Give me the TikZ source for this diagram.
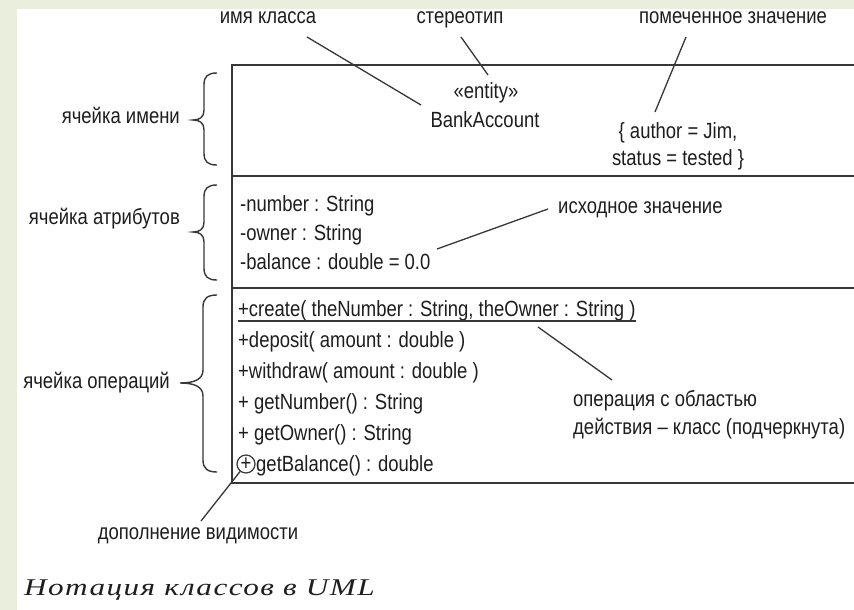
\documentclass[tikz,border=0pt]{standalone}
\usepackage{fontspec}
\setmainfont{Liberation Sans}[FakeStretch=0.84]
\newfontfamily\capfont{Liberation Serif}[FakeStretch=1.3,LetterSpace=6]
\usetikzlibrary{calc}
\definecolor{bggreen}{RGB}{233,239,220}
\definecolor{ink}{RGB}{30,30,30}
\definecolor{linec}{RGB}{55,55,55}
\begin{document}
\begin{tikzpicture}[x=1pt,y=-1pt,
  txt/.style={inner sep=0pt, text=ink, font=\fontsize{22}{26}\selectfont},
  cell/.style={draw=linec, line width=1.8pt},
  callout/.style={draw=linec, line width=1.3pt},
  bracepath/.style={draw=linec, line width=1.4pt},
  captionstyle/.style={inner sep=0pt, text=ink, font=\capfont\itshape\fontsize{24}{28}\selectfont}
]
\useasboundingbox (0,0) rectangle (854,610);
\fill[white] (0,0) rectangle (854,610);
\fill[bggreen] (0,0) rectangle (854,9);
\fill[bggreen] (0,0) rectangle (17,610);

% class box
\draw[cell] (854,65) -- (232,65) -- (232,483) -- (854,483);
\draw[cell] (232,176) -- (854,176);
\draw[cell] (232,288) -- (854,288);

% braces
\draw[bracepath] (217,73) .. controls (208,73) and (204,76) .. (204,85) -- (204,110)
  .. controls (204,117) and (200,120) .. (193,120) .. controls (200,120) and (204,123) .. (204,130)
  -- (204,153) .. controls (204,162) and (208,165) .. (217,165);
\draw[bracepath] (217,185) .. controls (208,185) and (204,188) .. (204,197) -- (204,222)
  .. controls (204,229) and (200,232) .. (193,232) .. controls (200,232) and (204,235) .. (204,242)
  -- (204,268) .. controls (204,277) and (208,280) .. (217,280);
\draw[bracepath] (217,295) .. controls (208,295) and (203,298) .. (203,307) -- (203,370)
  .. controls (203,379) and (195,383) .. (180,383) .. controls (195,383) and (203,387) .. (203,396)
  -- (203,460) .. controls (203,469) and (208,472) .. (217,472);

% compartment labels
\node[txt, anchor=base east] (cName) at (180,123) {ячейка имени};
\node[txt, anchor=base east] (cAttr) at (180,224) {ячейка атрибутов};
\node[txt, anchor=base east] (cOps) at (170,388) {ячейка операций};

% top labels
\node[txt, anchor=base] (lName) at (268,24) {имя класса};
\node[txt, anchor=base] (lStereo) at (460,24) {стереотип};
\node[txt, anchor=base] (lTag) at (733,24) {помеченное значение};

% name compartment
\node[txt, anchor=base] (stereo) at (486,98) {«entity»};
\node[txt, anchor=base] (clsname) at (485,127) {BankAccount};
\node[txt, anchor=base] (tag1) at (678,138) {\{ author = Jim,};
\node[txt, anchor=base] (tag2) at (678,165) {status = tested \}};

% attributes
\node[txt, anchor=base west] (a1) at (240,211) {-number : String};
\node[txt, anchor=base west] (a2) at (240,240) {-owner : String};
\node[txt, anchor=base west] (a3) at (240,269) {-balance : double = 0.0};
\node[txt, anchor=base west] (lInit) at (558,213) {исходное значение};

% operations
\node[txt, anchor=base west] (o1) at (238,316) {+create( theNumber : String, theOwner : String )};
\node[txt, anchor=base west] (o2) at (238,347) {+deposit( amount : double )};
\node[txt, anchor=base west] (o3) at (238,378) {+withdraw( amount : double )};
\node[txt, anchor=base west] (o4) at (238,409) {+ getNumber() : String};
\node[txt, anchor=base west] (o5) at (238,440) {+ getOwner() : String};
\node[txt, circle, draw=linec, line width=1.2pt, minimum size=18pt, inner sep=0pt] (vis) at (246,464) {+};
\node[txt, anchor=base west] (o6) at (256,471) {getBalance() : double};
\draw[callout] ([yshift=-5pt]o1.base west) -- ([yshift=-5pt]o1.base east);

\node[txt, anchor=base west] (lScope1) at (573,406) {операция с областью};
\node[txt, anchor=base west] (lScope2) at (573,434) {действия – класс (подчеркнута)};
\node[txt, anchor=base] (lVis) at (198,539) {дополнение видимости};

% callout ends
\coordinate (sName) at (307,37);
\coordinate (eName) at (421,105);
\coordinate (sStereo) at (461,37);
\coordinate (eStereo) at (488,75);
\coordinate (sTag) at (686,37);
\coordinate (eTag) at (655,112);
\coordinate (sInit) at (548,209);
\coordinate (eInit) at (437,249);
\coordinate (sScope) at (538,327);
\coordinate (eScope) at (612,380);
\coordinate (sVis) at (201,521);

\draw[callout] (sName) -- (eName);
\draw[callout] (sStereo) -- (eStereo);
\draw[callout] (sTag) -- (eTag);
\draw[callout] (sInit) -- (eInit);
\draw[callout] (sScope) -- (eScope);
\draw[callout] (sVis) -- (vis);

\node[captionstyle, anchor=base west] (caption) at (24,595) {Нотация классов в UML};
\end{tikzpicture}
\end{document}
